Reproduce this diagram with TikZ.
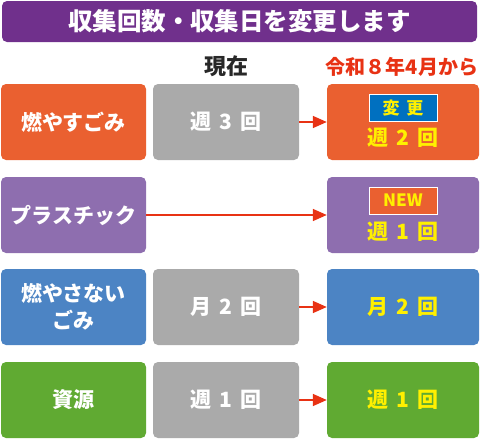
\documentclass[tikz,border=0pt]{standalone}
\usepackage{fontspec}
\setmainfont{Noto Sans CJK JP}[BoldFont={Noto Sans CJK JP Black}]
\usepackage{tikz}
\usetikzlibrary{arrows.meta,positioning}
\definecolor{TitlePurple}{RGB}{112,48,140}
\definecolor{BurnOrange}{RGB}{234,96,48}
\definecolor{PlasticPurple}{RGB}{142,110,175}
\definecolor{NonBurnBlue}{RGB}{76,132,196}
\definecolor{ResourceGreen}{RGB}{96,170,50}
\definecolor{NowGray}{RGB}{170,170,170}
\definecolor{NewYellow}{RGB}{255,240,0}
\definecolor{ArrowRed}{RGB}{232,50,20}
\definecolor{BadgeBlue}{RGB}{0,112,192}
\definecolor{HeadGray}{RGB}{40,40,40}
\newcommand{\gap}{\hspace{0.4em}}

\begin{document}
\begin{tikzpicture}[
        x=1pt, y=-1pt,
        box/.style={
            rounded corners=5pt,
            align=center,
            text=white,
            minimum width=145pt,
            minimum height=76pt,
            inner sep=0pt,
            font=\bfseries\fontsize{21}{27}\selectfont
        },
        nowbox/.style={
            box,
            fill=NowGray,
            minimum width=146pt
        },
        newbox/.style={
            box,
            minimum width=152pt
        },
        newtext/.style={
            text=NewYellow,
            font=\bfseries\fontsize{21}{25}\selectfont
        },
        badge/.style={
            draw=white,
            line width=0.8pt,
            text=NewYellow,
            minimum width=68pt,
            minimum height=27pt,
            inner sep=0pt,
            font=\bfseries\fontsize{17}{20}\selectfont
        },
        arrow/.style={
            -{Triangle[length=14pt,width=12pt]},
            draw=ArrowRed,
            line width=1.6pt
        }
    ]

    \useasboundingbox (0,0) rectangle (480,439);

    % Title bar
    \node[box, fill=TitlePurple, minimum width=475pt, minimum height=41pt,
          font=\bfseries\fontsize{24.5}{28}\selectfont] (title) at (239.5,21.5)
        {収集回数・収集日を変更します};

    % Column headings
    \node[text=HeadGray, font=\bfseries\fontsize{22}{24}\selectfont] (now) at (226,66) {現在};
    \node[text=ArrowRed, font=\bfseries\fontsize{20}{22}\selectfont] (from) at (402,67) {令和８年4月から};

    % Burnable
    \node[box, fill=BurnOrange] (k1) at (73.5,122) {燃やすごみ};
    \node[nowbox] (c1) at (226,122) {週\gap 3\gap 回};
    \node[newbox, fill=BurnOrange] (n1) at (403,122) {};
    \node[badge, fill=BadgeBlue] (b1) at (403,108) {変\gap 更};
    \node[newtext] (t1) at (403,138) {週\gap 2\gap 回};

    \draw[arrow] (c1.east) -- (n1.west);

    % Plastic
    \node[box, fill=PlasticPurple] (k2) at (73.5,215) {プラスチック};
    \node[newbox, fill=PlasticPurple] (n2) at (403,215) {};
    \node[badge, fill=BurnOrange] (b2) at (403,200.5) {NEW};
    \node[newtext] (t2) at (403,232) {週\gap 1\gap 回};

    \draw[arrow] (k2.east) -- (n2.west);

    % Non-burnable
    \node[box, fill=NonBurnBlue] (k3) at (73.5,307) {燃やさない\\ごみ};
    \node[nowbox] (c3) at (226,307) {月\gap 2\gap 回};
    \node[newbox, fill=NonBurnBlue, text=NewYellow] (n3) at (403,307) {月\gap 2\gap 回};

    \draw[arrow] (c3.east) -- (n3.west);

    % Resources
    \node[box, fill=ResourceGreen] (k4) at (73.5,400) {資源};
    \node[nowbox] (c4) at (226,400) {週\gap 1\gap 回};
    \node[newbox, fill=ResourceGreen, text=NewYellow] (n4) at (403,400) {週\gap 1\gap 回};

    \draw[arrow] (c4.east) -- (n4.west);

\end{tikzpicture}
\end{document}
